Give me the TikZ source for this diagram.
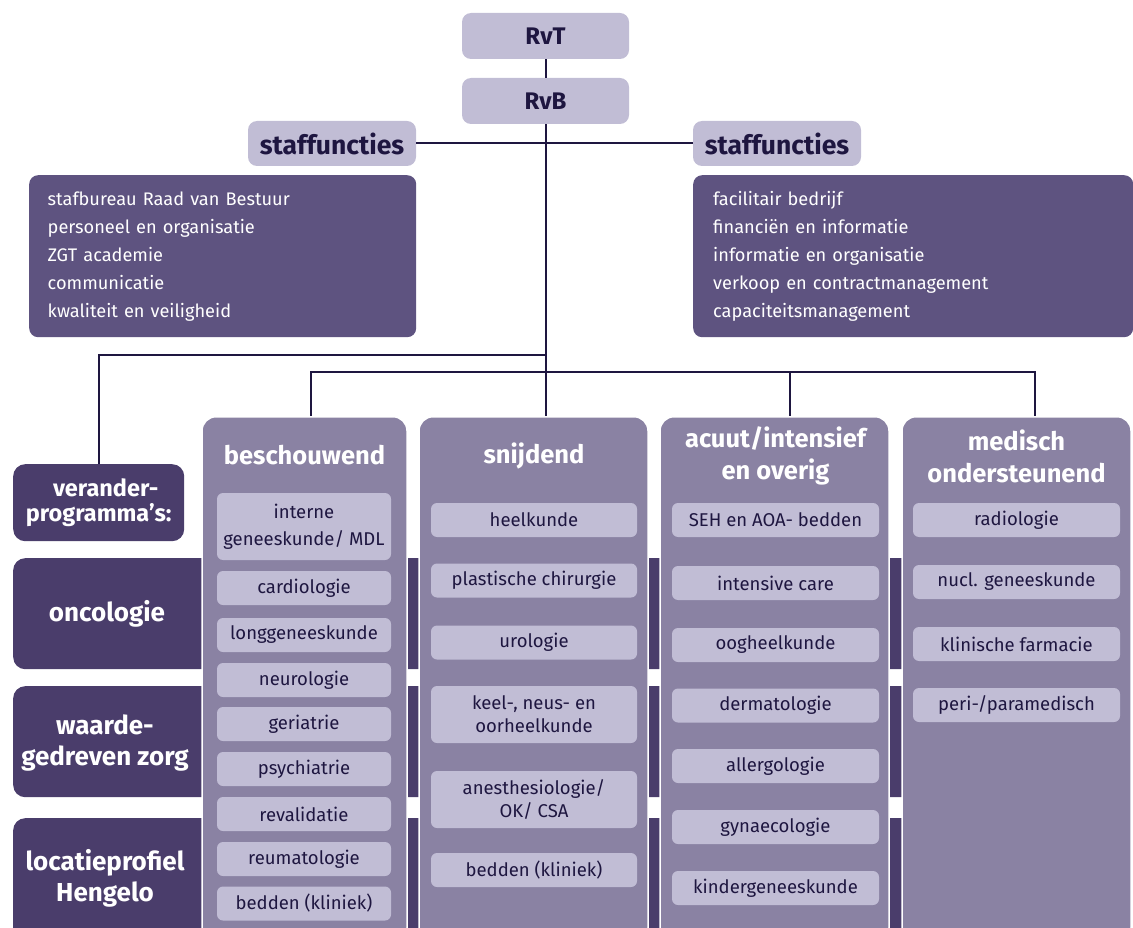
\documentclass[tikz,border=0pt]{standalone}
\usepackage{fontspec}
\setmainfont{Fira Sans}
\usetikzlibrary{positioning}
\usepackage{xcolor}

\definecolor{lila}{HTML}{C1BDD5}
\definecolor{kolom}{HTML}{8A82A3}
\definecolor{staflist}{HTML}{5E5380}
\definecolor{prog}{HTML}{4A3D6B}
\definecolor{ink}{HTML}{1E1640}

\tikzset{
    topbox/.style={fill=lila, rounded corners=9pt, text=ink, inner sep=0pt,
        font=\bfseries\fontsize{24}{28}\selectfont, minimum width=167pt, minimum height=46pt},
    stafflist/.style={fill=staflist, rounded corners=9pt, text=white, align=left,
        inner xsep=18pt, anchor=north west, minimum height=162pt,
        font=\fontsize{18.2}{28}\selectfont},
    colbox/.style={fill=kolom, draw=white, line width=1.5pt, rounded corners=14pt,
        anchor=north, minimum width=229pt, minimum height=525pt},
    colhead/.style={text=white, align=center, font=\bfseries\fontsize{25.5}{32}\selectfont},
    item/.style={fill=lila, rounded corners=6pt, text=ink, align=center, inner sep=0pt,
        minimum width=207pt, minimum height=34pt, font=\fontsize{18.5}{23}\selectfont},
    band/.style={fill=prog, rounded corners=12pt, anchor=north west, minimum width=1090pt},
    progtext/.style={text=white, align=center, font=\bfseries\fontsize{26}{31}\selectfont},
    link/.style={draw=ink, line width=2pt}
}

\begin{document}
\begin{tikzpicture}[x=1pt, y=-1pt]
    \useasboundingbox (0,0) rectangle (1133,928);

    \node[band, minimum height=111pt] (onco) at (13,558) {};
    \node[band, minimum height=111pt] (waarde) at (13,686) {};
    \node[band, minimum height=125pt] (locatie) at (13,818) {};
    \node[progtext] (oncoT) at (107,614) {oncologie};
    \node[progtext] (waardeT) at (105,743) {waarde-\\gedreven zorg};
    \node[progtext] (locatieT) at (105,878) {locatieprofiel\\Hengelo};
    \node[fill=prog, rounded corners=12pt, anchor=north west, minimum width=171pt, minimum height=77pt,
        text=white, align=center, font=\bfseries\fontsize{23.5}{25}\selectfont] (verander) at (13,464) {\hspace*{14pt}verander-\\programma’s:};

    \node[topbox] (RvT) at (545.5,36) {RvT};
    \node[topbox] (RvB) at (545.5,101) {RvB};
    \node[topbox, minimum width=168pt, minimum height=45pt, font=\bfseries\fontsize{26.5}{28}\selectfont] (staffL) at (332,143.5) {staffuncties};
    \node[topbox, minimum width=168pt, minimum height=45pt, font=\bfseries\fontsize{26.5}{28}\selectfont] (staffR) at (777,143.5) {staffuncties};

    \node[stafflist, minimum width=387pt, text width=350pt] (listL) at (29,175) {stafbureau Raad van Bestuur\\
        personeel en organisatie\\ ZGT academie\\ communicatie\\ kwaliteit en veiligheid};
    \node[stafflist, minimum width=440pt, text width=400pt] (listR) at (693,175) {facilitair bedrijf\\
        financiën en informatie\\ informatie en organisatie\\ verkoop en contractmanagement\\ capaciteitsmanagement};

    \node[colbox, minimum width=205pt] (col1) at (304.5,416) {};
    \node[colbox] (col2) at (533.5,416) {};
    \node[colbox] (col3) at (774.5,416) {};
    \node[colbox] (col4) at (1016.5,416) {};

    \coordinate (split) at (545.5,355);
    \coordinate (bus) at (545.5,372);
    \draw[link] (RvT) -- (RvB);
    \draw[link] (staffL) -- (staffR);
    \draw[link] (RvB.south) -- (RvB.south |- col2.north);
    \draw[link] (split) -| (verander.north);
    \draw[link] ([xshift=6.5pt]col1.north) |- (bus) -| ([xshift=18.5pt]col4.north);
    \draw[link] ([xshift=15.5pt]col3.north |- bus) -- ([xshift=15.5pt]col3.north);

    \node[colhead] (hd1) at (304.5,455) {beschouwend};
    \node[colhead] (hd2) at (534,456) {snijdend};
    \node[colhead] (hd3) at (775.5,456) {acuut/intensief\\en overig};
    \node[colhead] (hd4) at (1016.5,456) {medisch\\ondersteunend};

    \node[item, minimum width=174pt, minimum height=67pt, font=\fontsize{18.5}{27}\selectfont] (b1) at (304,526.5) {interne\\geneeskunde/ MDL};
    \node[item, minimum width=174pt] (b2) at (304,588) {cardiologie};
    \node[item, minimum width=174pt] (b3) at (304,635) {longgeneeskunde};
    \node[item, minimum width=174pt] (b4) at (304,680) {neurologie};
    \node[item, minimum width=174pt] (b5) at (304,724) {geriatrie};
    \node[item, minimum width=174pt] (b6) at (304,769) {psychiatrie};
    \node[item, minimum width=174pt] (b7) at (304,814) {revalidatie};
    \node[item, minimum width=174pt] (b8) at (304,859) {reumatologie};
    \node[item, minimum width=174pt] (b9) at (304,903.5) {bedden (kliniek)};

    \node[item, minimum width=206pt] (s1) at (534,520) {heelkunde};
    \node[item, minimum width=206pt] (s2) at (534,580.5) {plastische chirurgie};
    \node[item, minimum width=206pt] (s3) at (534,642.5) {urologie};
    \node[item, minimum width=206pt, minimum height=57pt] (s4) at (534,714.5) {keel-, neus- en\\oorheelkunde};
    \node[item, minimum width=206pt, minimum height=57pt] (s5) at (534,799.5) {anesthesiologie/\\OK/ CSA};
    \node[item, minimum width=206pt] (s6) at (534,870) {bedden (kliniek)};

    \node[item] (a1) at (775.5,520) {SEH en AOA- bedden};
    \node[item] (a2) at (775.5,583) {intensive care};
    \node[item] (a3) at (775.5,645) {oogheelkunde};
    \node[item] (a4) at (775.5,705.5) {dermatologie};
    \node[item] (a5) at (775.5,766) {allergologie};
    \node[item] (a6) at (775.5,827) {gynaecologie};
    \node[item] (a7) at (775.5,888) {kindergeneeskunde};

    \node[item] (m1) at (1016.5,520) {radiologie};
    \node[item] (m2) at (1016.5,582) {nucl. geneeskunde};
    \node[item] (m3) at (1016.5,644) {klinische farmacie};
    \node[item] (m4) at (1016.5,705) {peri-/paramedisch};
\end{tikzpicture}
\end{document}
